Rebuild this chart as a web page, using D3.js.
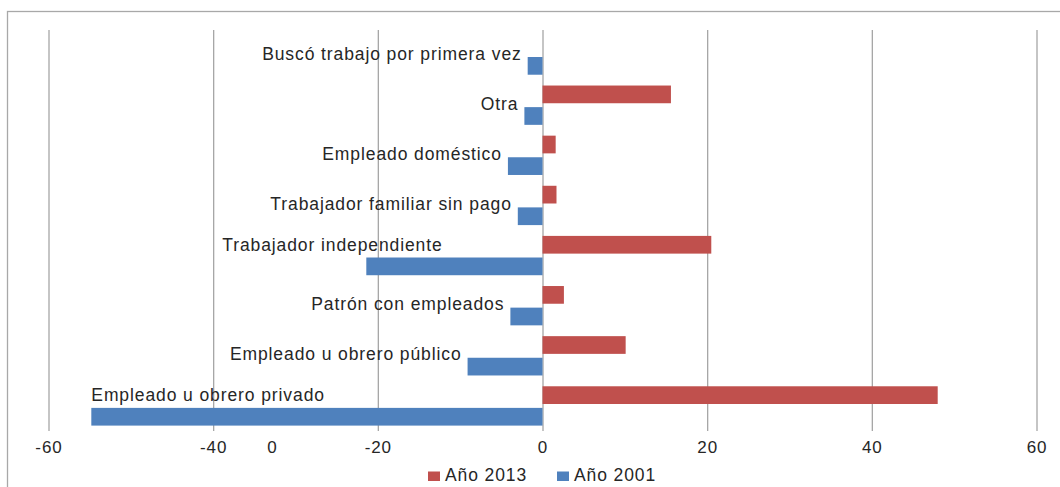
<!DOCTYPE html>
<html>
<head>
<meta charset="utf-8">
<script src="https://cdn.jsdelivr.net/npm/d3@7"></script>
<style>
  body { margin: 0; background: #fff; }
  svg text { font-family: "Liberation Sans", Arial, sans-serif; fill: #262626; letter-spacing: 0.9px; }
</style>
</head>
<body>
<div id="chart"></div>
<script>
// Categorías (de arriba hacia abajo) y valores por serie
const categories = [
    "Buscó trabajo por primera vez",
    "Otra",
    "Empleado doméstico",
    "Trabajador familiar sin pago",
    "Trabajador independiente",
    "Patrón con empleados",
    "Empleado u obrero público",
    "Empleado u obrero privado"
];
const values2013 = [null, 15.6, 1.6, 1.7, 20.5, 2.6, 10.1, 48.0];
const values2001 = [-1.8, -2.2, -4.2, -3.0, -21.4, -3.9, -9.1, -54.8];
const tickValues = [-60, -40, -20, 0, 20, 40, 60];
const seriesNames = ["Año 2013", "Año 2001"];
const colors = { "Año 2013": "#C0504D", "Año 2001": "#4F81BD" };

const width = 1060, height = 487;
const svg = d3.select("#chart").append("svg")
    .attr("width", width)
    .attr("height", height);

// marco del gráfico (se sale por la derecha y por abajo)
svg.append("rect")
    .attr("x", 7.5).attr("y", 11.5)
    .attr("width", 1200).attr("height", 600)
    .attr("fill", "none")
    .attr("stroke", "#a8a8a8")
    .attr("stroke-width", 1.3);

const x = d3.scaleLinear().domain([-60, 60]).range([48.5, 1036.5]);
const y = d3.scaleBand().domain(categories).range([30, 431]);
const ySub = d3.scaleBand().domain(seriesNames).range([0, y.bandwidth()])
    .paddingInner(0.18).paddingOuter(0.25);

// gridlines
const grid = svg.append("g")
    .attr("transform", "translate(0,431)")
    .call(d3.axisBottom(x).tickValues(tickValues).tickSize(-401).tickFormat(""));
grid.select(".domain").remove();
grid.selectAll("line").attr("stroke", "#a6a6a6").attr("stroke-width", 1.3);

// bars
const rows = categories.map((c, i) => ({ cat: c, "Año 2013": values2013[i], "Año 2001": values2001[i] }));
seriesNames.forEach(s => {
    svg.selectAll(".bar-" + s.slice(-4))
        .data(rows.filter(d => d[s] != null))
        .enter()
        .append("rect")
        .attr("x", d => x(Math.min(0, d[s])))
        .attr("width", d => Math.abs(x(d[s]) - x(0)))
        .attr("y", d => y(d.cat) + ySub(s))
        .attr("height", ySub.bandwidth())
        .attr("fill", colors[s]);
});

// etiquetas de categoría (dos movidas a mano sobre la barra)
const labelStart = { "Trabajador independiente": -38.9, "Empleado u obrero privado": -54.8 };
svg.selectAll(".cat-label")
    .data(rows)
    .enter()
    .append("text")
    .attr("class", "cat-label")
    .style("font-size", "17.5px")
    .attr("text-anchor", d => labelStart[d.cat] != null ? "start" : "end")
    .attr("x", d => labelStart[d.cat] != null ? x(labelStart[d.cat]) : x(d["Año 2001"]) - 6)
    .attr("y", d => y(d.cat) + y.bandwidth() / 2 + (labelStart[d.cat] != null ? -5 : 4.5))
    .text(d => d.cat);

// eje x
const axis = svg.append("g")
    .attr("transform", "translate(0,431)")
    .call(d3.axisBottom(x).tickValues(tickValues).tickSize(0).tickPadding(10).tickFormat(d => String(d)));
axis.select(".domain").remove();
axis.selectAll("text")
    .style("font-size", "17px")
    .attr("fill", "#262626")
    .attr("font-family", null);

// un "0" suelto que aparece en el original
svg.append("text")
    .attr("x", x(-32.8)).attr("y", 453)
    .attr("text-anchor", "middle")
    .style("font-size", "17px")
    .text("0");

// leyenda
const legendX = [428, 557];
const legend = svg.selectAll(".legend")
    .data(seriesNames)
    .enter()
    .append("g")
    .attr("transform", (d, i) => `translate(${legendX[i]},0)`);
legend.append("rect")
    .attr("x", 0).attr("y", 471.5)
    .attr("width", 12).attr("height", 9.5)
    .attr("fill", d => colors[d]);
legend.append("text")
    .attr("x", 17).attr("y", 481)
    .style("font-size", "17.5px")
    .text(d => d);
</script>
</body>
</html>
